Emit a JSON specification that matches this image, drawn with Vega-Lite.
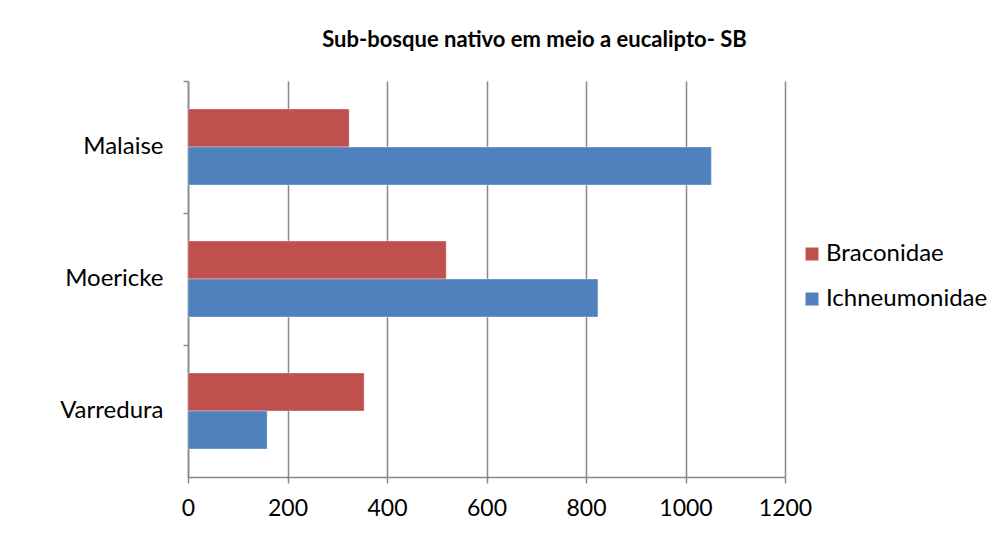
{
  "$schema": "https://vega.github.io/schema/vega-lite/v6.json",
  "width": 597,
  "height": 396,
  "autosize": {"type": "none"},
  "padding": {"left": 188, "top": 81, "right": 211, "bottom": 64},
  "background": "white",
  "title": {
    "text": "Sub-bosque nativo em meio a eucalipto- SB",
    "font": "Lato",
    "fontSize": 22,
    "fontWeight": "bold",
    "color": "#000000",
    "anchor": "middle",
    "dx": 48,
    "offset": 28
  },
  "data": {
    "values": [
      {"local": "Malaise", "familia": "Braconidae", "n": 324},
      {"local": "Malaise", "familia": "Ichneumonidae", "n": 1052},
      {"local": "Moericke", "familia": "Braconidae", "n": 519},
      {"local": "Moericke", "familia": "Ichneumonidae", "n": 824},
      {"local": "Varredura", "familia": "Braconidae", "n": 354},
      {"local": "Varredura", "familia": "Ichneumonidae", "n": 159}
    ]
  },
  "mark": {"type": "bar", "stroke": "#ffffff", "strokeOpacity": 0.35, "strokeWidth": 1},
  "encoding": {
    "y": {
      "field": "local",
      "type": "nominal",
      "sort": ["Malaise", "Moericke", "Varredura"],
      "scale": {"paddingInner": 0.424, "paddingOuter": 0.212},
      "axis": {
        "title": null,
        "bandPosition": -0.368,
        "labelFont": "Lato",
        "labelFontSize": 24,
        "labelColor": "#000000",
        "labelPadding": 20,
        "tickSize": 5,
        "tickColor": "#888888",
        "tickWidth": 1.5,
        "domainColor": "#888888",
        "domainWidth": 1.5,
        "grid": false
      }
    },
    "yOffset": {
      "field": "familia",
      "type": "nominal",
      "sort": ["Braconidae", "Ichneumonidae"]
    },
    "x": {
      "field": "n",
      "type": "quantitative",
      "scale": {"domain": [0, 1200], "nice": false},
      "axis": {
        "title": null,
        "values": [0, 200, 400, 600, 800, 1000, 1200],
        "format": "d",
        "labelFont": "Lato",
        "labelFontSize": 23,
        "labelColor": "#000000",
        "labelPadding": 14,
        "labelFlush": false,
        "tickSize": 6,
        "tickColor": "#888888",
        "tickWidth": 1.5,
        "domainColor": "#888888",
        "domainWidth": 1.5,
        "grid": true,
        "gridColor": "#888888",
        "gridWidth": 1.5
      }
    },
    "color": {
      "field": "familia",
      "type": "nominal",
      "sort": ["Braconidae", "Ichneumonidae"],
      "scale": {"domain": ["Braconidae", "Ichneumonidae"], "range": ["#C0504D", "#4F81BD"]},
      "legend": {
        "title": null,
        "orient": "none",
        "legendX": 612,
        "legendY": 161,
        "symbolType": "square",
        "symbolSize": 169,
        "symbolStrokeWidth": 0,
        "labelFont": "Lato",
        "labelFontSize": 24,
        "labelColor": "#000000",
        "labelOffset": 2,
        "labelLimit": 400,
        "rowPadding": 21
      }
    }
  },
  "config": {
    "view": {"stroke": null}
  }
}
